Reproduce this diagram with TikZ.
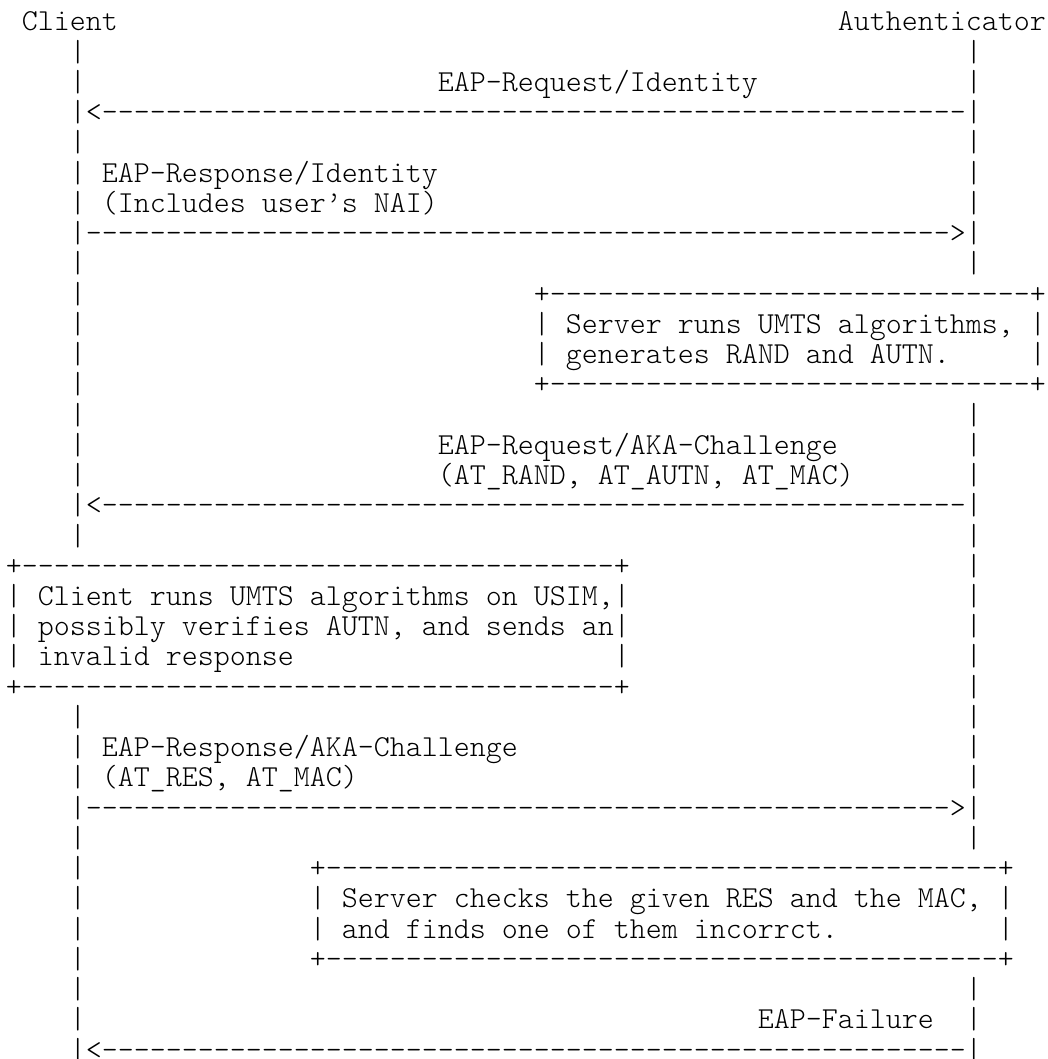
\documentclass[tikz,border=0pt]{standalone}
\usepackage{fontspec}
\setmonofont{lmmonolt10-regular.otf}

\tikzset{every picture/.style={line width=0.75pt}}
\tikzset{
  ascii/.style={anchor=base west, inner sep=0pt, outer sep=0pt, font=\fontsize{22.86}{26}\selectfont\ttfamily}
}
\newcommand{\dashrun}[1]{\foreach \k in {1,...,#1}{-}}

\begin{document}
\begin{tikzpicture}[x=12pt,y=22.68pt,yscale=-1]
	%set diagram: 65 columns, 35 rows
	\useasboundingbox (-0.375,-1.025) rectangle (65.125,34);

	% Text Node
	\node[ascii] (client) at (1,0) {Client};
	% Text Node
	\node[ascii] (auth) at (52,0) {Authenticator};

	%Lifeline: client
	\foreach \r in {1,...,17} \node[ascii] (lc\r) at (4,\r) {|};
	\foreach \r in {23,...,34} \node[ascii] (lc\r) at (4,\r) {|};
	%Lifeline: authenticator
	\foreach \r in {1,...,8} \node[ascii] (la\r) at (60,\r) {|};
	\foreach \r in {13,...,27} \node[ascii] (la\r) at (60,\r) {|};
	\foreach \r in {32,...,34} \node[ascii] (la\r) at (60,\r) {|};

	% Text Node
	\node[ascii] (reqid) at (27,2) {EAP-Request/Identity};
	%Arrow
	\node[ascii] (reqid-arrow) at (5,3) {<\dashrun{54}};

	% Text Node
	\node[ascii] (respid) at (6,5) {EAP-Response/Identity};
	\node[ascii] (respid-note) at (6,6) {(Includes user’s NAI)};
	%Arrow
	\node[ascii] (respid-arrow) at (5,7) {\dashrun{54}>};

	%Box: server runs
	\node[ascii] (srv-top) at (33,9) {+\dashrun{30}+};
	\node[ascii] (srv-l1) at (33,10) {|};
	\node[ascii] (srv-t1) at (35,10) {Server runs UMTS algorithms,};
	\node[ascii] (srv-r1) at (64,10) {|};
	\node[ascii] (srv-l2) at (33,11) {|};
	\node[ascii] (srv-t2) at (35,11) {generates RAND and AUTN.};
	\node[ascii] (srv-r2) at (64,11) {|};
	\node[ascii] (srv-bot) at (33,12) {+\dashrun{30}+};

	% Text Node
	\node[ascii] (chal) at (27,14) {EAP-Request/AKA-Challenge};
	\node[ascii] (chal-attr) at (27,15) {(AT\_RAND, AT\_AUTN, AT\_MAC)};
	%Arrow
	\node[ascii] (chal-arrow) at (5,16) {<\dashrun{54}};

	%Box: client runs
	\node[ascii] (cli-top) at (0,18) {+\dashrun{37}+};
	\node[ascii] (cli-l1) at (0,19) {|};
	\node[ascii] (cli-t1) at (2,19) {Client runs UMTS algorithms on USIM,};
	\node[ascii] (cli-r1) at (38,19) {|};
	\node[ascii] (cli-l2) at (0,20) {|};
	\node[ascii] (cli-t2) at (2,20) {possibly verifies AUTN, and sends an};
	\node[ascii] (cli-r2) at (38,20) {|};
	\node[ascii] (cli-l3) at (0,21) {|};
	\node[ascii] (cli-t3) at (2,21) {invalid response};
	\node[ascii] (cli-r3) at (38,21) {|};
	\node[ascii] (cli-bot) at (0,22) {+\dashrun{37}+};

	% Text Node
	\node[ascii] (resp) at (6,24) {EAP-Response/AKA-Challenge};
	\node[ascii] (resp-attr) at (6,25) {(AT\_RES, AT\_MAC)};
	%Arrow
	\node[ascii] (resp-arrow) at (5,26) {\dashrun{54}>};

	%Box: server checks
	\node[ascii] (chk-top) at (19,28) {+\dashrun{42}+};
	\node[ascii] (chk-l1) at (19,29) {|};
	\node[ascii] (chk-t1) at (21,29) {Server checks the given RES and the MAC,};
	\node[ascii] (chk-r1) at (62,29) {|};
	\node[ascii] (chk-l2) at (19,30) {|};
	\node[ascii] (chk-t2) at (21,30) {and finds one of them incorrct.};
	\node[ascii] (chk-r2) at (62,30) {|};
	\node[ascii] (chk-bot) at (19,31) {+\dashrun{42}+};

	% Text Node
	\node[ascii] (fail) at (47,33) {EAP-Failure};
	%Arrow
	\node[ascii] (fail-arrow) at (5,34) {<\dashrun{54}};

\end{tikzpicture}
\end{document}
